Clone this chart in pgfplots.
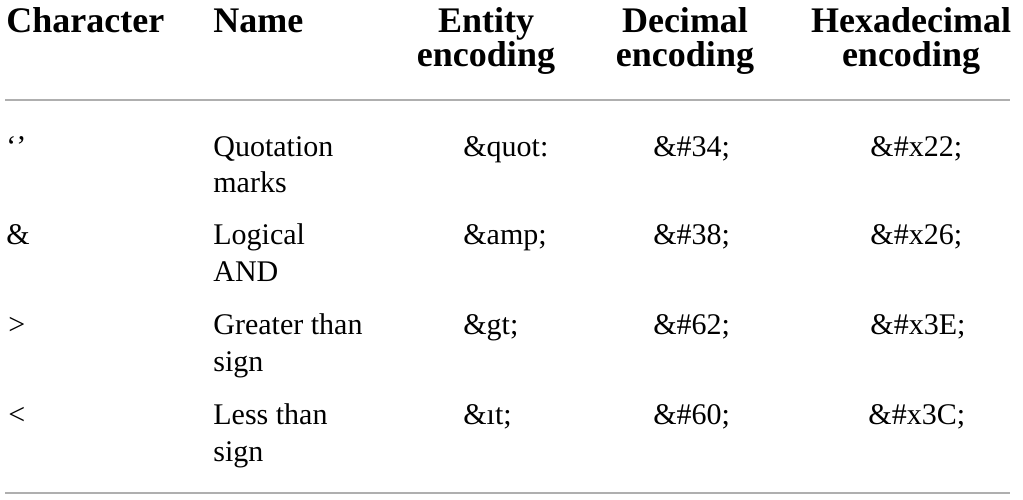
\documentclass[border=0pt]{standalone}
\usepackage{pgfplots}
\pgfplotsset{compat=1.18}
\usepackage{fontspec}
\setmainfont{Liberation Serif}
\definecolor{rulegray}{RGB}{175,175,175}
\begin{document}
\begin{tikzpicture}
\begin{axis}[
  scale only axis, width=511.5bp, height=250bp,
  xmin=0, xmax=1023, ymin=0, ymax=500, y dir=reverse,
  hide axis, clip=false,
]
\path (axis cs:0,0) rectangle (axis cs:1023,500);
% header
\tikzset{hd/.style={font=\fontsize{18bp}{20bp}\selectfont\bfseries, inner sep=0pt},
         bd/.style={font=\fontsize{15bp}{18bp}\selectfont, inner sep=0pt}}
\node[hd, anchor=base west] at (axis cs:6,33) {Character};
\node[hd, anchor=base west] at (axis cs:213,33) {Name};
\node[hd, anchor=base] at (axis cs:486,33) {Entity};
\node[hd, anchor=base] at (axis cs:486,67) {encoding};
\node[hd, anchor=base] at (axis cs:685,33) {Decimal};
\node[hd, anchor=base] at (axis cs:685,67) {encoding};
\node[hd, anchor=base] at (axis cs:911,33) {Hexadecimal};
\node[hd, anchor=base] at (axis cs:911,67) {encoding};
\draw[rulegray, line width=0.6bp] (axis cs:5,100) -- (axis cs:1010,100);
% row 1
\node[bd, anchor=base west] at (axis cs:6,157) {\textquoteleft\textquoteright};
\node[bd, anchor=base west] at (axis cs:213,157) {Quotation};
\node[bd, anchor=base west] at (axis cs:213,193) {marks};
\node[bd, anchor=base west] at (axis cs:463,157) {\&quot:};
\node[bd, anchor=base west] at (axis cs:653,157) {\&\#34;};
\node[bd, anchor=base west] at (axis cs:870,157) {\&\#x22;};
% row 2
\node[bd, anchor=base west] at (axis cs:6,245) {\&};
\node[bd, anchor=base west] at (axis cs:213,245) {Logical};
\node[bd, anchor=base west] at (axis cs:213,282) {AND};
\node[bd, anchor=base west] at (axis cs:463,245) {\&amp;};
\node[bd, anchor=base west] at (axis cs:653,245) {\&\#38;};
\node[bd, anchor=base west] at (axis cs:870,245) {\&\#x26;};
% row 3
\node[bd, anchor=base west] at (axis cs:8,335) {>};
\node[bd, anchor=base west] at (axis cs:213,335) {Greater than};
\node[bd, anchor=base west] at (axis cs:213,372) {sign};
\node[bd, anchor=base west] at (axis cs:463,335) {\&gt;};
\node[bd, anchor=base west] at (axis cs:653,335) {\&\#62;};
\node[bd, anchor=base west] at (axis cs:870,335) {\&\#x3E;};
% row 4
\node[bd, anchor=base west] at (axis cs:8,425) {<};
\node[bd, anchor=base west] at (axis cs:213,425) {Less than};
\node[bd, anchor=base west] at (axis cs:213,462) {sign};
\node[bd, anchor=base west] at (axis cs:463,425) {\&ıt;};
\node[bd, anchor=base west] at (axis cs:653,425) {\&\#60;};
\node[bd, anchor=base west] at (axis cs:868,425) {\&\#x3C;};
\draw[rulegray, line width=0.6bp] (axis cs:5,493) -- (axis cs:1010,493);
\end{axis}
\end{tikzpicture}
\end{document}
